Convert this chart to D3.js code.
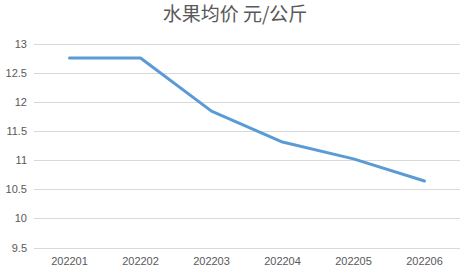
<!DOCTYPE html>
<html>
<head>
<meta charset="utf-8">
<script src="https://d3js.org/d3.v7.min.js"></script>
<style>
  body { margin: 0; background: #fff; }
  svg { display: block; }
</style>
</head>
<body>
<svg width="473" height="275"></svg>
<script>
// data
var months = ["202201", "202202", "202203", "202204", "202205", "202206"];
var prices = [12.75, 12.75, 11.84, 11.31, 11.02, 10.64];
var yTicks = [9.5, 10, 10.5, 11, 11.5, 12, 12.5, 13];
var title = "水果均价 元/公斤";

var svg = d3.select("svg");
var margin = {top: 43.5, right: 13, bottom: 27, left: 34};
var width = 473 - margin.left - margin.right;
var height = 275 - margin.top - margin.bottom - 0.5;

var x = d3.scaleBand().domain(months).range([margin.left, margin.left + width]);
var y = d3.scaleLinear().domain([9.5, 13]).range([margin.top + height, margin.top]);

// title
svg.append("text")
  .attr("x", 235)
  .attr("y", 21)
  .attr("text-anchor", "middle")
  .style("font-family", "'Noto Sans CJK SC', sans-serif")
  .style("font-size", "19px")
  .style("fill", "#595959")
  .text(title);

// gridlines
svg.append("g").selectAll("line")
  .data(yTicks)
  .enter().append("line")
    .attr("x1", margin.left)
    .attr("x2", margin.left + width)
    .attr("y1", function(d) { return Math.round(y(d)) + 0.5; })
    .attr("y2", function(d) { return Math.round(y(d)) + 0.5; })
    .attr("stroke", "#d9d9d9")
    .attr("stroke-width", 1);

// y axis
var yAxis = svg.append("g")
  .attr("transform", "translate(" + (margin.left - 7) + ",0)")
  .call(d3.axisLeft(y).tickValues(yTicks).tickSize(0).tickPadding(0).tickFormat(d3.format("")));
yAxis.select(".domain").remove();

// x axis
var xAxis = svg.append("g")
  .attr("transform", "translate(0," + (margin.top + height) + ")")
  .call(d3.axisBottom(x).tickSize(0).tickPadding(10));
xAxis.select(".domain").remove();

svg.selectAll(".tick text")
  .style("font-family", "'Liberation Sans', Arial, sans-serif")
  .style("font-size", "11px")
  .style("fill", "#595959");

// line
var line = d3.line()
  .x(function(d, i) { return x(months[i]) + x.bandwidth() / 2; })
  .y(function(d) { return y(d); });

svg.append("path")
  .datum(prices)
  .attr("d", line)
  .attr("fill", "none")
  .attr("stroke", "#5b9bd5")
  .attr("stroke-width", 3)
  .attr("stroke-linejoin", "round")
  .attr("stroke-linecap", "round");
</script>
</body>
</html>
